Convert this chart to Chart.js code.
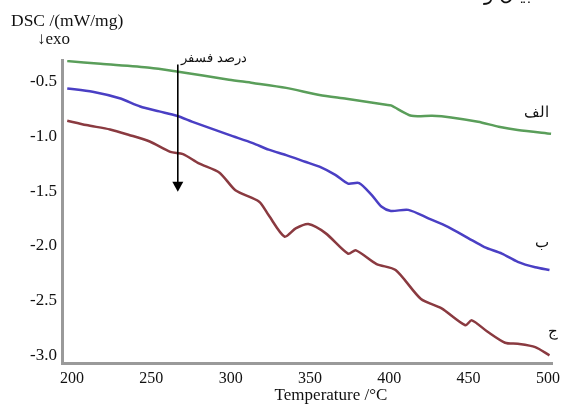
<!DOCTYPE html>
<html>
<head>
<meta charset="utf-8">
<script src="https://cdn.jsdelivr.net/npm/chart.js@4"></script>
<style>
  html, body { margin: 0; padding: 0; background: #fff; }
  #wrap { width: 566px; height: 410px; }
</style>
</head>
<body>
<div id="wrap"><canvas id="dsc" width="566" height="410"></canvas></div>
<script>
// ------------------------------------------------------------
//  DSC curves
// ------------------------------------------------------------
var X_TICKS = [200, 250, 300, 350, 400, 450, 500];
var Y_TICKS = [-3.0, -2.5, -2.0, -1.5, -1.0, -0.5];

// الف
var alefT = [197, 218, 249, 266, 299, 314, 335, 356, 373, 398, 401, 414, 427, 439, 456, 469, 481, 502];
var alefV = [-0.31, -0.335, -0.37, -0.405, -0.48, -0.51, -0.555, -0.62, -0.655, -0.71, -0.715, -0.81, -0.81, -0.825, -0.865, -0.91, -0.94, -0.975];

// ب
var beT = [197, 213, 230, 243, 255, 266, 276, 299, 314, 324, 335, 347, 356, 366, 374, 381, 389, 395, 401, 412, 425, 437, 450, 460, 471, 481, 492, 501];
var beV = [-0.56, -0.59, -0.65, -0.725, -0.77, -0.81, -0.865, -0.985, -1.06, -1.12, -1.17, -1.23, -1.275, -1.35, -1.43, -1.425, -1.535, -1.64, -1.68, -1.67, -1.75, -1.825, -1.93, -2.01, -2.07, -2.145, -2.195, -2.22];

// ج
var jimT = [197, 209, 224, 236, 249, 262, 270, 280, 293, 303, 318, 324, 334, 341, 349, 360, 374, 379, 392, 404, 420, 433, 448, 452, 462, 473, 481, 492, 501];
var jimV = [-0.855, -0.895, -0.935, -0.985, -1.045, -1.14, -1.16, -1.245, -1.33, -1.49, -1.595, -1.72, -1.915, -1.84, -1.8, -1.885, -2.07, -2.04, -2.165, -2.22, -2.485, -2.57, -2.725, -2.68, -2.785, -2.885, -2.895, -2.925, -3.0];

var SERIF = '"Liberation Serif", "DejaVu Serif", serif';

function pts(xs, ys) {
  return xs.map(function (x, i) { return { x: x, y: ys[i] }; });
}

function series(xs, ys, color) {
  return {
    data: pts(xs, ys),
    borderColor: color,
    borderWidth: 2.5,
    pointRadius: 0,
    tension: 0.25,
    fill: false
  };
}

// ------------------------------------------------------------
//  Extra text + arrow drawn on top
// ------------------------------------------------------------
var annotations = {
  id: 'annotations',
  afterDraw: function (chart) {
    var ctx = chart.ctx;
    var xs = chart.scales.x, ys = chart.scales.y;
    ctx.save();
    ctx.fillStyle = '#111';
    ctx.textBaseline = 'middle';

    ctx.font = '17.5px ' + SERIF;
    ctx.textAlign = 'left';
    ctx.fillText('DSC /(mW/mg)', 11, 21);
    ctx.font = '17px ' + SERIF;
    ctx.fillText('\u2193exo', 37, 40);

    ctx.textAlign = 'center';
    ctx.fillText('Temperature /\u00B0C', 331, 396);

    // cut-off caption at the very top
    ctx.font = '20px ' + SERIF;
    ctx.fillText('بیان و', 508, -5);

    // curve labels
    ctx.font = '15px ' + SERIF;
    ctx.fillText('الف', 536, 113);
    ctx.fillText('ب', 542, 243);
    ctx.fillText('ج', 553, 332);

    // arrow "درصد فسفر"
    var ax = xs.getPixelForValue(266.7);
    var top = ys.getPixelForValue(-0.34);
    var tip = ys.getPixelForValue(-1.505);
    ctx.strokeStyle = '#000';
    ctx.lineWidth = 1.6;
    ctx.beginPath();
    ctx.moveTo(ax, top);
    ctx.lineTo(ax, tip - 8);
    ctx.stroke();
    ctx.fillStyle = '#000';
    ctx.beginPath();
    ctx.moveTo(ax - 5.5, tip - 10);
    ctx.lineTo(ax + 5.5, tip - 10);
    ctx.lineTo(ax, tip);
    ctx.closePath();
    ctx.fill();

    ctx.font = '13px ' + SERIF;
    ctx.fillStyle = '#111';
    ctx.fillText('درصد فسفر', 214, 59);
    ctx.restore();
  }
};

new Chart(document.getElementById('dsc'), {
  type: 'line',
  data: {
    datasets: [
      series(alefT, alefV, '#5a9e5a'),
      series(beT, beV, '#4a3fc4'),
      series(jimT, jimV, '#8a3a40')
    ]
  },
  options: {
    responsive: false,
    animation: false,
    layout: { padding: { top: 60, right: 11, left: 0, bottom: 0 } },
    plugins: { legend: { display: false }, tooltip: { enabled: false } },
    scales: {
      x: {
        type: 'linear',
        min: 193.7,
        max: 503,
        afterFit: function (s) { s.height = 47; },
        afterBuildTicks: function (s) { s.ticks = X_TICKS.map(function (v) { return { value: v }; }); },
        grid: { display: false, drawTicks: false, tickLength: 0 },
        border: { display: true, color: '#9a9a9a', width: 3 },
        ticks: {
          color: '#111',
          padding: 6,
          maxRotation: 0,
          font: { family: SERIF, size: 16 },
          callback: function (v) { return String(v); }
        }
      },
      y: {
        type: 'linear',
        min: -3.07,
        max: -0.3,
        afterFit: function (s) { s.width = 62; },
        afterBuildTicks: function (s) { s.ticks = Y_TICKS.map(function (v) { return { value: v }; }); },
        grid: { display: false, drawTicks: false, tickLength: 0 },
        border: { display: true, color: '#9a9a9a', width: 3 },
        ticks: {
          color: '#111',
          padding: 5,
          font: { family: SERIF, size: 17 },
          callback: function (v) { return Number(v).toFixed(1); }
        }
      }
    }
  },
  plugins: [annotations]
});
</script>
</body>
</html>
